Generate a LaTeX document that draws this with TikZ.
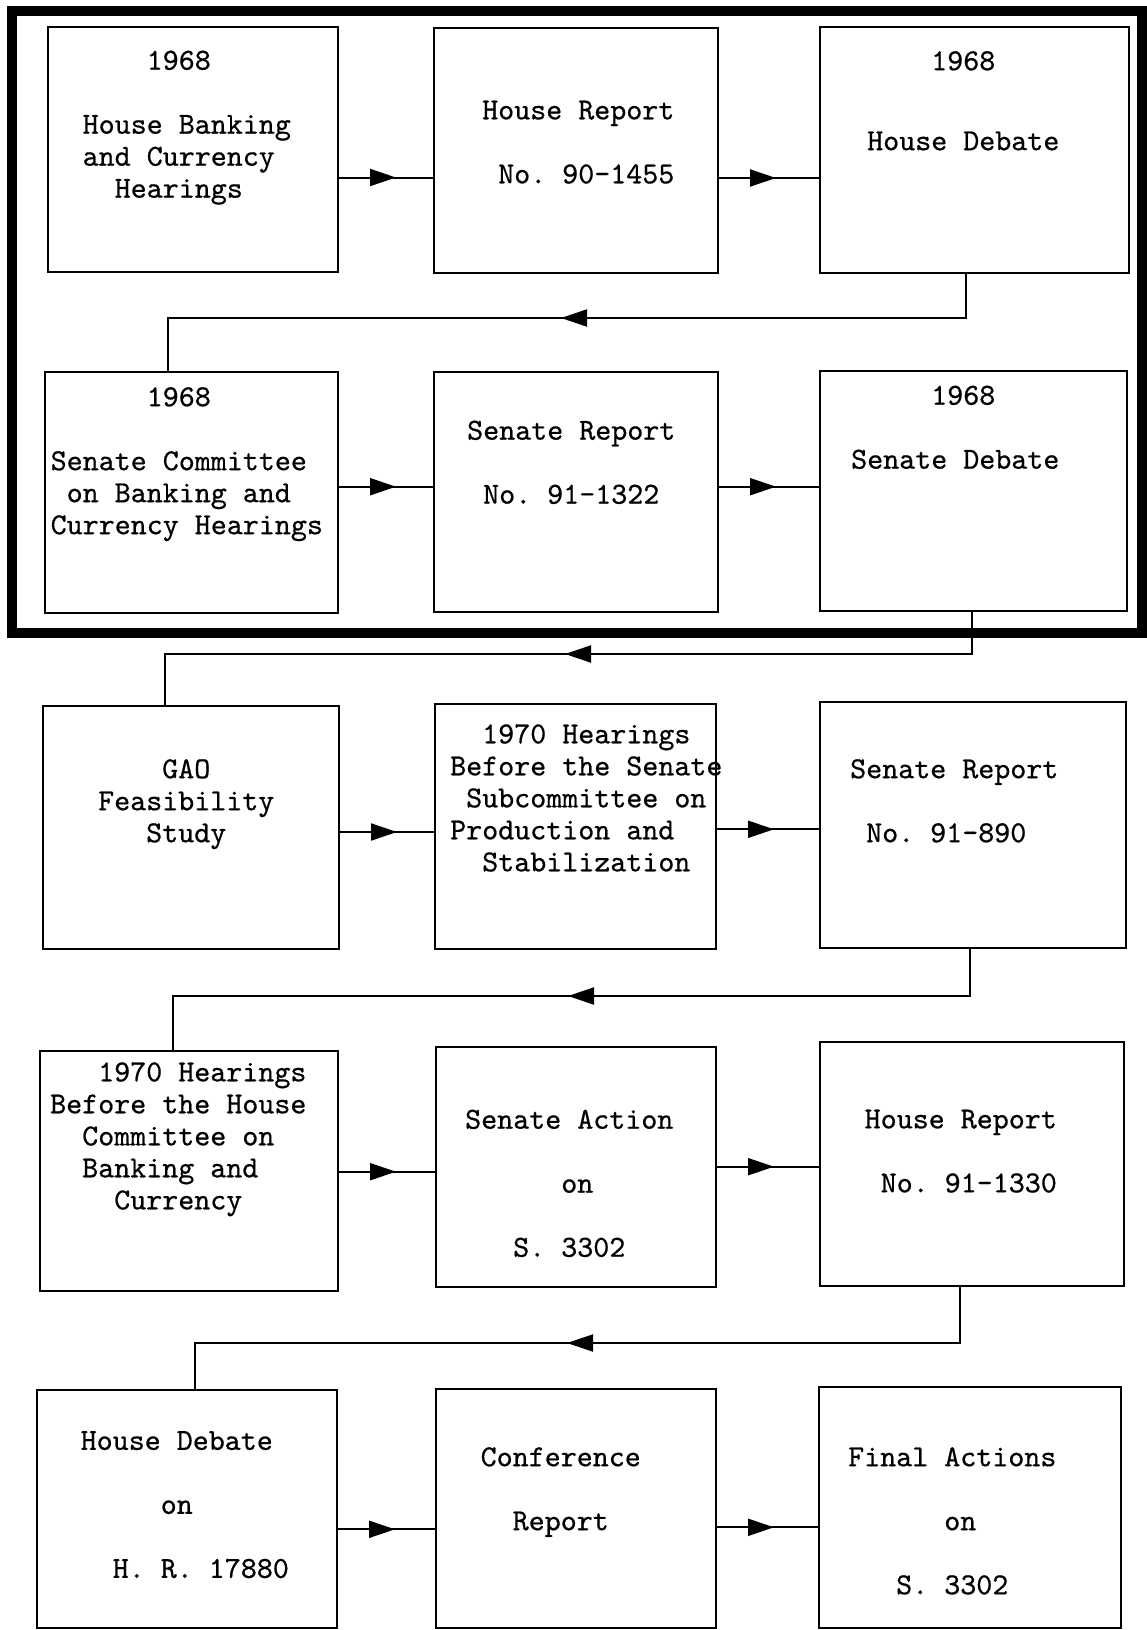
\documentclass[tikz,border=0pt]{standalone}
\usepackage{fontspec}
\setmonofont{lmmono10-regular.otf}[FakeBold=0.6]
\usetikzlibrary{arrows.meta, fit, decorations.markings}
\tikzset{
  stage/.style = {draw, line width=2pt, inner sep=0pt},
  txt/.style   = {anchor=north west, inner sep=0pt, align=left,
                  font=\ttfamily\frenchspacing\fontsize{30.5}{32}\selectfont},
  fwd/.style   = {line width=2pt, postaction={decorate},
                  decoration={markings, mark=at position 57pt with
                    {\arrow{Triangle[length=26pt, width=17pt]}}}},
  back/.style  = {line width=2pt, postaction={decorate},
                  decoration={markings, mark=at position 449pt with
                    {\arrow{Triangle[length=26pt, width=17pt]}}}},
}

\begin{document}
\begin{tikzpicture}[x=1pt, y=-1pt]
  \useasboundingbox (0,0) rectangle (1147,1630);

  % 1968 stages
  \draw[line width=10pt] (11.5,11) rectangle (1142,633);

  % row 1
  \node[stage, fit={(48,27) (338,272)}]   (hbank) {};
  \node[stage, fit={(434,28) (718,273)}]  (hrep)  {};
  \node[stage, fit={(820,27) (1129,273)}] (hdeb)  {};
  \node[txt] (hbanktxt) at (82.5,50.5) {~~~~1968\\[32pt]House Banking\\and Currency\\~~Hearings};
  \node[txt] (hreptxt)  at (482,100.5) {House Report\\[32pt]~No. 90-1455};
  \node[txt] (hdebtxt)  at (867,51)    {~~~~1968\\[48pt]House Debate};

  % row 2
  \node[stage, fit={(45,372) (338,613)}]  (scom) {};
  \node[stage, fit={(434,372) (718,612)}] (srep) {};
  \node[stage, fit={(820,371) (1127,611)}] (sdeb) {};
  \node[txt] (scomtxt) at (50.5,387) {~~~~~~1968\\[32pt]Senate Committee\\~on Banking and\\Currency Hearings};
  \node[txt] (sreptxt) at (467,420.5)  {Senate Report\\[32pt]~No. 91-1322};
  \node[txt] (sdebtxt) at (851,385.5)  {~~~~~1968\\[32pt]Senate Debate};

  % row 3
  \node[stage, fit={(43,706) (339,949)}]   (gao)   {};
  \node[stage, fit={(435,704) (716,949)}]  (ssub)  {};
  \node[stage, fit={(820,702) (1126,948)}] (sr890) {};
  \node[txt] (gaotxt)   at (98,759)  {~~~~GAO\\Feasibility\\~~~Study};
  \node[txt] (ssubtxt)  at (450,724) {~~1970 Hearings\\Before the Senate\\~Subcommittee on\\Production and\\~~Stabilization};
  \node[txt] (sr890txt) at (850,759) {Senate Report\\[32pt]~No. 91-890};

  % row 4
  \node[stage, fit={(40,1051) (338,1291)}]   (hhear)  {};
  \node[stage, fit={(436,1047) (716,1287)}]  (sact)   {};
  \node[stage, fit={(820,1042) (1124,1286)}] (hr1330) {};
  \node[txt] (hheartxt)  at (50,1062)    {~~~1970 Hearings\\Before the House\\~~Committee on\\~~Banking and\\~~~~Currency};
  \node[txt] (sacttxt)   at (465,1109.5) {Senate Action\\[32pt]~~~~~~on\\[32pt]~~~S. 3302};
  \node[txt] (hr1330txt) at (864.5,1109.5) {House Report\\[32pt]~No. 91-1330};

  % row 5
  \node[stage, fit={(37,1390) (337,1628)}]   (hdeb2) {};
  \node[stage, fit={(436,1389) (716,1628)}]  (conf)  {};
  \node[stage, fit={(819,1387) (1121,1628)}] (final) {};
  \node[txt] (hdeb2txt) at (80.5,1431) {House Debate\\[32pt]~~~~~on\\[32pt]~~H. R. 17880};
  \node[txt] (conftxt)  at (480.5,1447) {Conference\\[32pt]~~Report};
  \node[txt] (finaltxt) at (848,1447)  {Final Actions\\[32pt]~~~~~~on\\[32pt]~~~S. 3302};

  % flow within rows
  \draw[fwd] (hbank.east |- 0,177.5) -- (hrep.west |- 0,177.5);
  \draw[fwd] (hrep.east |- 0,178)    -- (hdeb.west |- 0,178);
  \draw[fwd] (scom.east |- 0,486.7)  -- (srep.west |- 0,486.7);
  \draw[fwd] (srep.east |- 0,486.7)  -- (sdeb.west |- 0,486.7);
  \draw[fwd] (gao.east |- 0,832)     -- (ssub.west |- 0,832);
  \draw[fwd] (ssub.east |- 0,829.3)  -- (sr890.west |- 0,829.3);
  \draw[fwd] (hhear.east |- 0,1171.7) -- (sact.west |- 0,1171.7);
  \draw[fwd] (sact.east |- 0,1166.7)  -- (hr1330.west |- 0,1166.7);
  \draw[fwd] (hdeb2.east |- 0,1529.3) -- (conf.west |- 0,1529.3);
  \draw[fwd] (conf.east |- 0,1527.3)  -- (final.west |- 0,1527.3);

  % back to the next row
  \draw[back] (hdeb.south -| 966,0)   -- ++(0,44) -| (scom.north -| 168,0);
  \draw[back] (sdeb.south -| 972,0)   -- ++(0,42) -| (gao.north -| 165,0);
  \draw[back] (sr890.south -| 970,0)  -- ++(0,47) -| (hhear.north -| 173,0);
  \draw[back] (hr1330.south -| 960,0) -- ++(0,56) -| (hdeb2.north -| 195,0);
\end{tikzpicture}
\end{document}
